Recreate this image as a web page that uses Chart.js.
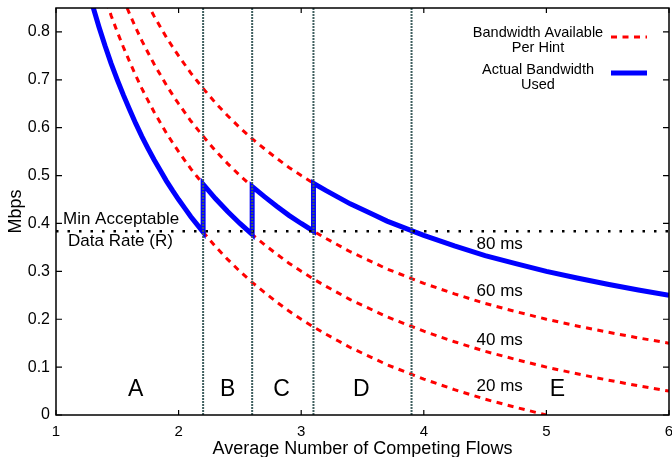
<!DOCTYPE html>
<html>
<head>
<meta charset="utf-8">
<script src="https://cdn.jsdelivr.net/npm/chart.js@4"></script>
<style>
  html, body { margin: 0; padding: 0; background: #fff; }
  #bwChart { display: block; }
</style>
</head>
<body>
<canvas id="bwChart" width="672" height="457"></canvas>
<script>
// x positions (average number of competing flows) used for the hint curves
const flows = [1.25, 1.3, 1.35, 1.4, 1.45, 1.5, 1.55, 1.6, 1.65, 1.7, 1.75, 1.8, 1.85, 1.9, 1.95, 2.0, 2.05, 2.1, 2.15, 2.2,
               2.3, 2.4, 2.5, 2.6, 2.7, 2.8, 2.9, 3.0, 3.1, 3.2, 3.3, 3.4, 3.5, 3.6, 3.7, 3.8, 3.9, 4.0,
               4.25, 4.5, 4.75, 5.0, 5.25, 5.5, 5.75, 6.0];

// bandwidth available per hint (Mbps), one array per RTT
const rtt80 = [1.2, 1.154, 1.111, 1.071, 1.034, 1.0, 0.968, 0.938, 0.909, 0.882, 0.857, 0.833, 0.811, 0.789, 0.769, 0.75, 0.732, 0.714, 0.698, 0.682,
               0.652, 0.625, 0.6, 0.577, 0.556, 0.536, 0.517, 0.5, 0.484, 0.469, 0.455, 0.441, 0.429, 0.417, 0.405, 0.395, 0.385, 0.375,
               0.353, 0.333, 0.316, 0.3, 0.286, 0.273, 0.261, 0.25];
const rtt60 = [1.1, 1.054, 1.011, 0.971, 0.934, 0.9, 0.868, 0.838, 0.809, 0.782, 0.757, 0.733, 0.711, 0.689, 0.669, 0.65, 0.632, 0.614, 0.598, 0.582,
               0.552, 0.525, 0.5, 0.477, 0.456, 0.436, 0.417, 0.4, 0.384, 0.369, 0.355, 0.341, 0.329, 0.317, 0.305, 0.295, 0.285, 0.275,
               0.253, 0.233, 0.216, 0.2, 0.186, 0.173, 0.161, 0.15];
const rtt40 = [1.0, 0.954, 0.911, 0.871, 0.834, 0.8, 0.768, 0.738, 0.709, 0.682, 0.657, 0.633, 0.611, 0.589, 0.569, 0.55, 0.532, 0.514, 0.498, 0.482,
               0.452, 0.425, 0.4, 0.377, 0.356, 0.336, 0.317, 0.3, 0.284, 0.269, 0.255, 0.241, 0.229, 0.217, 0.205, 0.195, 0.185, 0.175,
               0.153, 0.133, 0.116, 0.1, 0.086, 0.073, 0.061, 0.05];
const rtt20 = [0.9, 0.854, 0.811, 0.771, 0.734, 0.7, 0.668, 0.638, 0.609, 0.582, 0.557, 0.533, 0.511, 0.489, 0.469, 0.45, 0.432, 0.414, 0.398, 0.382,
               0.352, 0.325, 0.3, 0.277, 0.256, 0.236, 0.217, 0.2, 0.184, 0.169, 0.155, 0.141, 0.129, 0.117, 0.105, 0.095, 0.085, 0.075,
               0.053, 0.033, 0.016, 0.0, null, null, null, null];

// actual bandwidth used (blue), jumps up at each region boundary
const actualFlows = [1.25, 1.3, 1.35, 1.4, 1.45, 1.5, 1.55, 1.6, 1.65, 1.7, 1.75, 1.8, 1.85, 1.9, 1.95, 2.0, 2.05, 2.1, 2.15, 2.2,
                     2.2, 2.3, 2.4, 2.5, 2.6,
                     2.6, 2.7, 2.8, 2.9, 3.0, 3.1,
                     3.1, 3.2, 3.3, 3.4, 3.5, 3.6, 3.7, 3.8, 3.9, 4.0, 4.25, 4.5, 4.75, 5.0, 5.25, 5.5, 5.75, 6.0];
const actualMbps = [0.9, 0.854, 0.811, 0.771, 0.734, 0.7, 0.668, 0.638, 0.609, 0.582, 0.557, 0.533, 0.511, 0.489, 0.469, 0.45, 0.432, 0.414, 0.398, 0.382,
                    0.482, 0.452, 0.425, 0.4, 0.377,
                    0.477, 0.456, 0.436, 0.417, 0.4, 0.384,
                    0.484, 0.469, 0.455, 0.441, 0.429, 0.417, 0.405, 0.395, 0.385, 0.375, 0.353, 0.333, 0.316, 0.3, 0.286, 0.273, 0.261, 0.25];

const minRate = 0.384;                       // min acceptable data rate R
const regionBounds = [2.2, 2.6, 3.1, 3.9];   // A|B|C|D|E boundaries
const regionNames = ['A', 'B', 'C', 'D', 'E'];
const regionNameX = [1.65, 2.4, 2.84, 3.49, 5.09];
const rttNames = ['80 ms', '60 ms', '40 ms', '20 ms'];
const rttNameY = [0.356, 0.258, 0.157, 0.059];

const xTicks = [1, 2, 3, 4, 5, 6];
const yTicks = [0, 0.1, 0.2, 0.3, 0.4, 0.5, 0.6, 0.7, 0.8];

const FONT = "'Liberation Sans', Arial, Helvetica, sans-serif";

const toPoints = (xs, ys) => xs.map((x, i) => ({ x: x, y: ys[i] }));

// boundary lines, separated by gaps
const boundaryPoints = [];
regionBounds.forEach(b => {
    boundaryPoints.push({ x: b, y: 0 }, { x: b, y: 0.85 }, { x: b, y: null });
});

const redLine = data => ({
    data: data,
    borderColor: '#ff0000',
    borderWidth: 3,
    borderDash: [6, 5.5],
    borderCapStyle: 'butt',
    pointRadius: 0,
    tension: 0,
    spanGaps: false
});

// text, frame and legend drawn on top of the plot
const decorations = {
    id: 'decorations',
    afterDatasetsDraw(chart) {
        const ctx = chart.ctx;
        const xs = chart.scales.x;
        const ys = chart.scales.y;
        const area = chart.chartArea;

        ctx.save();
        ctx.fillStyle = '#000';
        ctx.textBaseline = 'middle';

        // region letters
        ctx.font = '23px ' + FONT;
        ctx.textAlign = 'center';
        regionNames.forEach((n, i) => {
            ctx.fillText(n, xs.getPixelForValue(regionNameX[i]), ys.getPixelForValue(0.053));
        });

        // rtt labels
        ctx.font = '17px ' + FONT;
        ctx.textAlign = 'left';
        rttNames.forEach((n, i) => {
            ctx.fillText(n, xs.getPixelForValue(4.43), ys.getPixelForValue(rttNameY[i]));
        });

        // min rate label
        ctx.fillText('Min Acceptable', xs.getPixelForValue(1.057), ys.getPixelForValue(0.408));
        ctx.fillText('Data Rate (R)', xs.getPixelForValue(1.098), ys.getPixelForValue(0.362));

        // frame
        ctx.strokeStyle = '#000';
        ctx.lineWidth = 1.5;
        ctx.strokeRect(area.left, area.top, area.right - area.left, area.bottom - area.top);

        // inward ticks on all four sides
        ctx.lineWidth = 1.2;
        ctx.beginPath();
        xTicks.forEach(v => {
            const px = xs.getPixelForValue(v);
            ctx.moveTo(px, area.bottom); ctx.lineTo(px, area.bottom - 5);
            ctx.moveTo(px, area.top); ctx.lineTo(px, area.top + 5);
        });
        yTicks.forEach(v => {
            const py = ys.getPixelForValue(v);
            ctx.moveTo(area.left, py); ctx.lineTo(area.left + 6, py);
            ctx.moveTo(area.right, py); ctx.lineTo(area.right - 6, py);
        });
        ctx.stroke();

        // legend
        const cx = area.right - 131;
        ctx.font = '14.5px ' + FONT;
        ctx.textAlign = 'center';
        ctx.fillText('Bandwidth Available', cx, area.top + 25);
        ctx.fillText('Per Hint', cx, area.top + 40);
        ctx.fillText('Actual Bandwidth', cx, area.top + 62);
        ctx.fillText('Used', cx, area.top + 77);

        ctx.strokeStyle = '#ff0000';
        ctx.lineWidth = 3;
        ctx.setLineDash([6, 5.5]);
        ctx.beginPath();
        ctx.moveTo(area.right - 58, area.top + 29);
        ctx.lineTo(area.right - 22, area.top + 29);
        ctx.stroke();

        ctx.setLineDash([]);
        ctx.strokeStyle = '#0000ff';
        ctx.lineWidth = 5;
        ctx.beginPath();
        ctx.moveTo(area.right - 58, area.top + 65);
        ctx.lineTo(area.right - 22, area.top + 65);
        ctx.stroke();

        ctx.restore();
    }
};

new Chart(document.getElementById('bwChart'), {
    type: 'line',
    data: {
        datasets: [{
            label: 'Region boundaries',
            data: boundaryPoints,
            borderColor: '#3f5f5f',
            borderWidth: 2,
            borderDash: [2, 1],
            pointRadius: 0,
            spanGaps: false
        }, {
            label: 'Min Acceptable Data Rate (R)',
            data: [{ x: 1, y: minRate }, { x: 6, y: minRate }],
            borderColor: '#000',
            borderWidth: 2.5,
            borderDash: [2.5, 9],
            pointRadius: 0
        }, {
            label: 'Actual Bandwidth Used',
            data: toPoints(actualFlows, actualMbps),
            borderColor: '#0000ff',
            borderWidth: 5,
            borderJoinStyle: 'miter',
            pointRadius: 0,
            tension: 0
        },
        Object.assign({ label: '80 ms' }, redLine(toPoints(flows, rtt80))),
        Object.assign({ label: '60 ms' }, redLine(toPoints(flows, rtt60))),
        Object.assign({ label: '40 ms' }, redLine(toPoints(flows, rtt40))),
        Object.assign({ label: '20 ms' }, redLine(toPoints(flows, rtt20)))
        ]
    },
    options: {
        responsive: false,
        animation: false,
        devicePixelRatio: 1,
        layout: { padding: { top: 8, right: 3, left: 0, bottom: 0 } },
        plugins: {
            legend: { display: false },
            tooltip: { enabled: false }
        },
        scales: {
            x: {
                type: 'linear',
                min: 1,
                max: 6,
                grid: { display: false, drawTicks: false },
                border: { display: false },
                ticks: {
                    stepSize: 1,
                    padding: 8,
                    color: '#000',
                    font: { family: FONT, size: 15 },
                    maxRotation: 0
                },
                title: {
                    display: true,
                    text: 'Average Number of Competing Flows',
                    color: '#000',
                    font: { family: FONT, size: 18 },
                    padding: { top: 0, bottom: -3 }
                },
                afterFit(scale) {
                    scale.height = 42;
                    scale.paddingLeft = 0;
                    scale.paddingRight = 0;
                }
            },
            y: {
                min: 0,
                max: 0.85,
                grid: { display: false, drawTicks: false },
                border: { display: false },
                ticks: {
                    stepSize: 0.1,
                    includeBounds: false,
                    padding: 6,
                    color: '#000',
                    font: { family: FONT, size: 16 }
                },
                title: {
                    display: true,
                    text: 'Mbps',
                    color: '#000',
                    font: { family: FONT, size: 18 },
                    padding: { top: 5, bottom: 0 }
                },
                afterFit(scale) {
                    scale.width = 56;
                    scale.paddingTop = 0;
                    scale.paddingBottom = 0;
                }
            }
        }
    },
    plugins: [decorations]
});
</script>
</body>
</html>
